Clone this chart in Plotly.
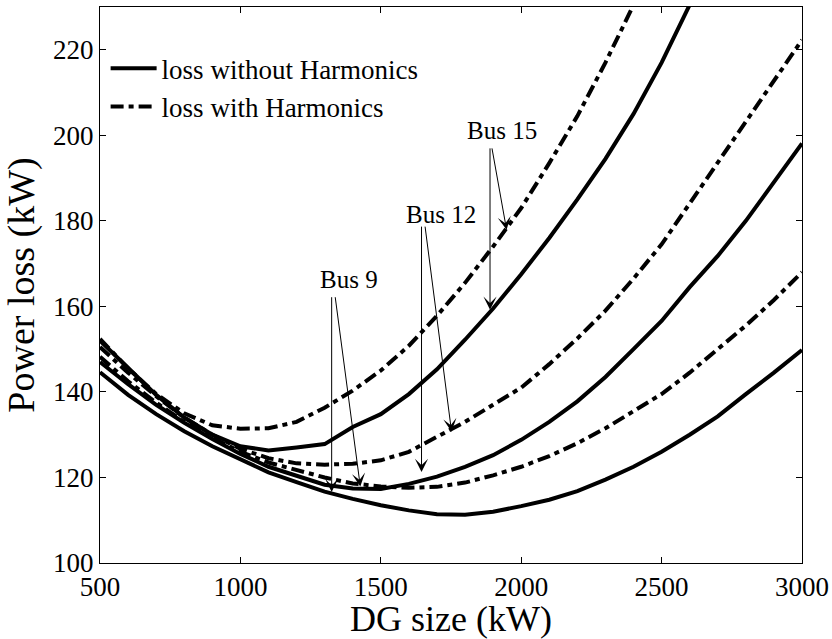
import plotly.graph_objects as go

# DG size samples (kW)
dg_size = [500, 600, 700, 800, 900, 1000, 1100, 1200, 1300, 1400, 1500, 1600, 1700,
           1800, 1900, 2000, 2100, 2200, 2300, 2400, 2500, 2600, 2700, 2800, 2900, 3000]

# Power loss (kW) for DG placed at each bus
bus9_without = [144.6, 139.3, 134.8, 130.8, 127.3, 124.2, 121.2, 118.9, 116.7, 115.0, 113.5, 112.3, 111.4,
                111.3, 112.0, 113.3, 114.8, 116.8, 119.5, 122.5, 126.0, 130.0, 134.3, 139.5, 144.5, 149.8]
bus9_with = [148.2, 142.5, 137.5, 133.0, 129.3, 126.0, 123.5, 121.7, 120.0, 118.6, 117.9, 117.6, 117.8,
             118.8, 120.5, 122.5, 125.0, 128.0, 131.5, 135.5, 139.5, 144.5, 150.0, 155.5, 161.5, 168.0]
bus12_without = [147.0, 141.8, 137.0, 132.8, 129.0, 125.5, 122.5, 120.3, 118.3, 117.4, 117.3, 118.5, 120.2,
                 122.5, 125.2, 128.8, 133.0, 137.8, 143.5, 150.0, 156.6, 164.5, 171.8, 180.0, 189.0, 198.1]
bus12_with = [150.5, 144.5, 139.0, 134.0, 130.0, 126.7, 124.5, 123.3, 123.0, 123.2, 124.0, 126.0, 129.5,
              133.0, 137.0, 141.0, 146.5, 152.5, 159.0, 166.5, 174.5, 184.0, 193.5, 203.0, 212.5, 222.3]
bus15_without = [152.0, 145.5, 139.3, 134.0, 130.0, 127.3, 126.3, 127.0, 127.8, 131.8, 134.8, 139.5, 145.3,
                 152.2, 159.5, 167.5, 176.0, 185.0, 194.5, 205.0, 217.0, 230.5]
bus15_with = [152.4, 145.5, 139.5, 135.0, 132.2, 131.4, 131.5, 133.0, 136.3, 140.3, 145.0, 150.8, 157.8,
              165.5, 174.0, 183.0, 193.5, 204.5, 217.0, 230.5]

series_names = ["loss without Harmonics", "loss with Harmonics"]

# Bus labels: label anchor (x, y) and the two arrow targets (without, with harmonics)
bus_labels = ["Bus 9", "Bus 12", "Bus 15"]
label_pos = [(1387, 166.4), (1714, 181.6), (1933, 201.2)]
arrow_tails = [((1325, 162.5), (1337, 162.5)),
               ((1645, 179.0), (1657, 179.0)),
               ((1889, 197.3), (1895, 197.3))]
arrow_heads = [((1325, 116.6), (1427, 117.9)),
               ((1645, 121.3), (1752, 130.7)),
               ((1889, 159.2), (1948, 177.9))]

x_ticks = [500, 1000, 1500, 2000, 2500, 3000]
y_ticks = [100, 120, 140, 160, 180, 200, 220]

FONT = "Liberation Serif, Times New Roman, serif"
DASHDOT = "13px,5px,5px,5px"

fig = go.Figure()

curves = [
    (bus9_without, "solid", 0, True),
    (bus9_with, DASHDOT, 1, True),
    (bus12_without, "solid", 0, False),
    (bus12_with, DASHDOT, 1, False),
    (bus15_without, "solid", 0, False),
    (bus15_with, DASHDOT, 1, False),
]
for values, dash, kind, show in curves:
    fig.add_trace(go.Scatter(
        x=dg_size[:len(values)], y=values, mode="lines",
        name=series_names[kind], legendgroup=series_names[kind], showlegend=show,
        line=dict(color="black", width=4, dash=dash),
        cliponaxis=True,
    ))

annotations = []
for label, (lx, ly), tails, heads in zip(bus_labels, label_pos, arrow_tails, arrow_heads):
    annotations.append(dict(x=lx, y=ly, xref="x", yref="y", text=label, showarrow=False,
                            font=dict(family=FONT, size=25, color="black")))
    for (tx, ty), (hx, hy) in zip(tails, heads):
        annotations.append(dict(x=hx, y=hy, ax=tx, ay=ty, xref="x", yref="y",
                                axref="x", ayref="y", text="", showarrow=True,
                                arrowhead=3, arrowsize=2.2, arrowwidth=1,
                                arrowcolor="black", standoff=0, startstandoff=0))

fig.update_layout(
    width=832, height=639,
    margin=dict(l=100, r=30, t=7, b=76),
    paper_bgcolor="white", plot_bgcolor="white",
    font=dict(family=FONT, size=27, color="black"),
    showlegend=True,
    legend=dict(x=0.008, y=0.933, xanchor="left", yanchor="top",
                bgcolor="rgba(0,0,0,0)", borderwidth=0,
                font=dict(family=FONT, size=27, color="black"),
                itemwidth=46, tracegroupgap=0),
    annotations=annotations,
    xaxis=dict(range=[500, 3000], tickvals=x_ticks, ticks="inside", ticklen=6,
               tickcolor="black", showline=True, linecolor="black", linewidth=1,
               mirror="allticks", showgrid=False, zeroline=False, automargin=False,
               tickfont=dict(family=FONT, size=27, color="black"),
               title=dict(text="DG size (kW)", font=dict(family=FONT, size=36, color="black"),
                          standoff=14)),
    yaxis=dict(range=[100, 230], tickvals=y_ticks, ticks="inside", ticklen=6,
               tickcolor="black", showline=True, linecolor="black", linewidth=1,
               mirror="allticks", showgrid=False, zeroline=False, automargin=False,
               tickfont=dict(family=FONT, size=27, color="black"),
               title=dict(text="Power loss (kW)", font=dict(family=FONT, size=38, color="black"),
                          standoff=10)),
)

fig.write_html("out.html")
